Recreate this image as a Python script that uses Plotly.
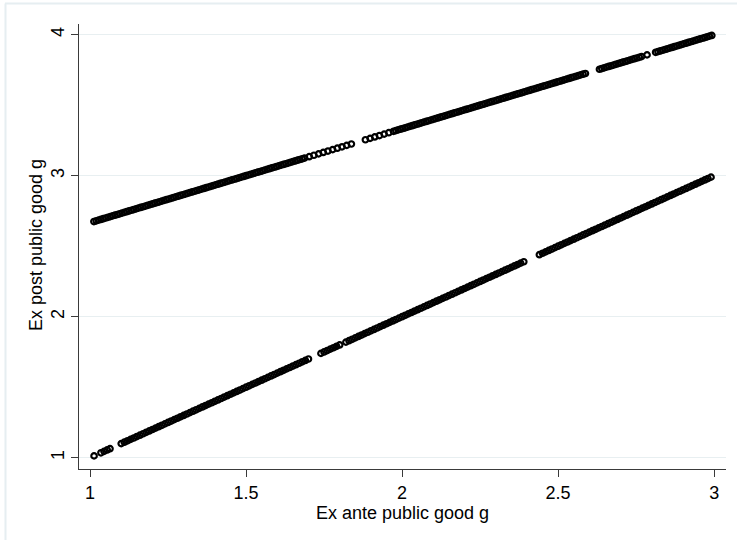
import plotly.graph_objects as go

# ---- data ----
lower_x = [1.013, 1.035, 1.045, 1.055, 1.064,
    1.10, 1.11, 1.12, 1.13, 1.14, 1.15, 1.16, 1.17, 1.18, 1.19,
    1.20, 1.21, 1.22, 1.23, 1.24, 1.25, 1.26, 1.27, 1.28, 1.29,
    1.30, 1.31, 1.32, 1.33, 1.34, 1.35, 1.36, 1.37, 1.38, 1.39,
    1.40, 1.41, 1.42, 1.43, 1.44, 1.45, 1.46, 1.47, 1.48, 1.49,
    1.50, 1.51, 1.52, 1.53, 1.54, 1.55, 1.56, 1.57, 1.58, 1.59,
    1.60, 1.61, 1.62, 1.63, 1.64, 1.65, 1.66, 1.67, 1.68, 1.69,
    1.70,
    1.74, 1.75, 1.76, 1.77, 1.78, 1.79, 1.80,
    1.82, 1.83, 1.84, 1.85, 1.86, 1.87, 1.88, 1.89,
    1.90, 1.91, 1.92, 1.93, 1.94, 1.95, 1.96, 1.97, 1.98, 1.99,
    2.00, 2.01, 2.02, 2.03, 2.04, 2.05, 2.06, 2.07, 2.08, 2.09,
    2.10, 2.11, 2.12, 2.13, 2.14, 2.15, 2.16, 2.17, 2.18, 2.19,
    2.20, 2.21, 2.22, 2.23, 2.24, 2.25, 2.26, 2.27, 2.28, 2.29,
    2.30, 2.31, 2.32, 2.33, 2.34, 2.35, 2.36, 2.37, 2.38, 2.39,
    2.44, 2.45, 2.46, 2.47, 2.48, 2.49,
    2.50, 2.51, 2.52, 2.53, 2.54, 2.55, 2.56, 2.57, 2.58, 2.59,
    2.60, 2.61, 2.62, 2.63, 2.64, 2.65, 2.66, 2.67, 2.68, 2.69,
    2.70, 2.71, 2.72, 2.73, 2.74, 2.75, 2.76, 2.77, 2.78, 2.79,
    2.80, 2.81, 2.82, 2.83, 2.84, 2.85, 2.86, 2.87, 2.88, 2.89,
    2.90, 2.91, 2.92, 2.93, 2.94, 2.95, 2.96, 2.97, 2.98, 2.99]

lower_y = [1.013, 1.035, 1.045, 1.055, 1.064,
    1.10, 1.11, 1.12, 1.13, 1.14, 1.15, 1.16, 1.17, 1.18, 1.19,
    1.20, 1.21, 1.22, 1.23, 1.24, 1.25, 1.26, 1.27, 1.28, 1.29,
    1.30, 1.31, 1.32, 1.33, 1.34, 1.35, 1.36, 1.37, 1.38, 1.39,
    1.40, 1.41, 1.42, 1.43, 1.44, 1.45, 1.46, 1.47, 1.48, 1.49,
    1.50, 1.51, 1.52, 1.53, 1.54, 1.55, 1.56, 1.57, 1.58, 1.59,
    1.60, 1.61, 1.62, 1.63, 1.64, 1.65, 1.66, 1.67, 1.68, 1.69,
    1.70,
    1.74, 1.75, 1.76, 1.77, 1.78, 1.79, 1.80,
    1.82, 1.83, 1.84, 1.85, 1.86, 1.87, 1.88, 1.89,
    1.90, 1.91, 1.92, 1.93, 1.94, 1.95, 1.96, 1.97, 1.98, 1.99,
    2.00, 2.01, 2.02, 2.03, 2.04, 2.05, 2.06, 2.07, 2.08, 2.09,
    2.10, 2.11, 2.12, 2.13, 2.14, 2.15, 2.16, 2.17, 2.18, 2.19,
    2.20, 2.21, 2.22, 2.23, 2.24, 2.25, 2.26, 2.27, 2.28, 2.29,
    2.30, 2.31, 2.32, 2.33, 2.34, 2.35, 2.36, 2.37, 2.38, 2.39,
    2.44, 2.45, 2.46, 2.47, 2.48, 2.49,
    2.50, 2.51, 2.52, 2.53, 2.54, 2.55, 2.56, 2.57, 2.58, 2.59,
    2.60, 2.61, 2.62, 2.63, 2.64, 2.65, 2.66, 2.67, 2.68, 2.69,
    2.70, 2.71, 2.72, 2.73, 2.74, 2.75, 2.76, 2.77, 2.78, 2.79,
    2.80, 2.81, 2.82, 2.83, 2.84, 2.85, 2.86, 2.87, 2.88, 2.89,
    2.90, 2.91, 2.92, 2.93, 2.94, 2.95, 2.96, 2.97, 2.98, 2.99]

upper_x = [
    1.0125, 1.02, 1.0275, 1.035, 1.0425, 1.05, 1.0575, 1.065, 1.0725, 1.08,
    1.0875, 1.095, 1.1025, 1.11, 1.1175, 1.125, 1.1325, 1.14, 1.1475, 1.155,
    1.1625, 1.17, 1.1775, 1.185, 1.1925, 1.2, 1.2075, 1.215, 1.2225, 1.23,
    1.2375, 1.245, 1.2525, 1.26, 1.2675, 1.275, 1.2825, 1.29, 1.2975, 1.305,
    1.3125, 1.32, 1.3275, 1.335, 1.3425, 1.35, 1.3575, 1.365, 1.3725, 1.38,
    1.3875, 1.395, 1.4025, 1.41, 1.4175, 1.425, 1.4325, 1.44, 1.4475, 1.455,
    1.4625, 1.47, 1.4775, 1.485, 1.4925, 1.5, 1.5075, 1.515, 1.5225, 1.53,
    1.5375, 1.545, 1.5525, 1.56, 1.5675, 1.575, 1.5825, 1.59, 1.5975, 1.605,
    1.6125, 1.62, 1.6275, 1.635, 1.6425, 1.65, 1.6575, 1.665, 1.6725, 1.68,
    1.6875,
    1.7025, 1.7175, 1.7325, 1.7475, 1.7625, 1.7775, 1.7925, 1.8075, 1.8225, 1.8375,
    1.8825, 1.8975, 1.9125, 1.9275, 1.9425, 1.9575, 1.9725,
    1.98, 1.9875, 1.995, 2.0025, 2.01, 2.0175, 2.025, 2.0325, 2.04, 2.0475,
    2.055, 2.0625, 2.07, 2.0775, 2.085, 2.0925, 2.1, 2.1075, 2.115, 2.1225,
    2.13, 2.1375, 2.145, 2.1525, 2.16, 2.1675, 2.175, 2.1825, 2.19, 2.1975,
    2.205, 2.2125, 2.22, 2.2275, 2.235, 2.2425, 2.25, 2.2575, 2.265, 2.2725,
    2.28, 2.2875, 2.295, 2.3025, 2.31, 2.3175, 2.325, 2.3325, 2.34, 2.3475,
    2.355, 2.3625, 2.37, 2.3775, 2.385, 2.3925, 2.4, 2.4075, 2.415, 2.4225,
    2.43, 2.4375, 2.445, 2.4525, 2.46, 2.4675, 2.475, 2.4825, 2.49, 2.4975,
    2.505, 2.5125, 2.52, 2.5275, 2.535, 2.5425, 2.55, 2.5575, 2.565, 2.5725,
    2.58, 2.5875,
    2.6325, 2.64, 2.6475, 2.655, 2.6625, 2.67, 2.6775, 2.685, 2.6925, 2.7,
    2.7075, 2.715, 2.7225, 2.73, 2.7375, 2.745, 2.7525, 2.76, 2.7675,
    2.785,
    2.8125, 2.82, 2.8275, 2.835, 2.8425, 2.85, 2.8575, 2.865, 2.8725, 2.88,
    2.8875, 2.895, 2.9025, 2.91, 2.9175, 2.925, 2.9325, 2.94, 2.9475, 2.955,
    2.9625, 2.97, 2.9775, 2.985, 2.9925]

upper_y = [
    2.675, 2.68, 2.685, 2.69, 2.695, 2.7, 2.705, 2.71, 2.715, 2.72,
    2.725, 2.73, 2.735, 2.74, 2.745, 2.75, 2.755, 2.76, 2.765, 2.77,
    2.775, 2.78, 2.785, 2.79, 2.795, 2.8, 2.805, 2.81, 2.815, 2.82,
    2.825, 2.83, 2.835, 2.84, 2.845, 2.85, 2.855, 2.86, 2.865, 2.87,
    2.875, 2.88, 2.885, 2.89, 2.895, 2.9, 2.905, 2.91, 2.915, 2.92,
    2.925, 2.93, 2.935, 2.94, 2.945, 2.95, 2.955, 2.96, 2.965, 2.97,
    2.975, 2.98, 2.985, 2.99, 2.995, 3.0, 3.005, 3.01, 3.015, 3.02,
    3.025, 3.03, 3.035, 3.04, 3.045, 3.05, 3.055, 3.06, 3.065, 3.07,
    3.075, 3.08, 3.085, 3.09, 3.095, 3.1, 3.105, 3.11, 3.115, 3.12,
    3.125,
    3.135, 3.145, 3.155, 3.165, 3.175, 3.185, 3.195, 3.205, 3.215, 3.225,
    3.255, 3.265, 3.275, 3.285, 3.295, 3.305, 3.315,
    3.32, 3.325, 3.33, 3.335, 3.34, 3.345, 3.35, 3.355, 3.36, 3.365,
    3.37, 3.375, 3.38, 3.385, 3.39, 3.395, 3.4, 3.405, 3.41, 3.415,
    3.42, 3.425, 3.43, 3.435, 3.44, 3.445, 3.45, 3.455, 3.46, 3.465,
    3.47, 3.475, 3.48, 3.485, 3.49, 3.495, 3.5, 3.505, 3.51, 3.515,
    3.52, 3.525, 3.53, 3.535, 3.54, 3.545, 3.55, 3.555, 3.56, 3.565,
    3.57, 3.575, 3.58, 3.585, 3.59, 3.595, 3.6, 3.605, 3.61, 3.615,
    3.62, 3.625, 3.63, 3.635, 3.64, 3.645, 3.65, 3.655, 3.66, 3.665,
    3.67, 3.675, 3.68, 3.685, 3.69, 3.695, 3.7, 3.705, 3.71, 3.715,
    3.72, 3.725,
    3.755, 3.76, 3.765, 3.77, 3.775, 3.78, 3.785, 3.79, 3.795, 3.8,
    3.805, 3.81, 3.815, 3.82, 3.825, 3.83, 3.835, 3.84, 3.845,
    3.857,
    3.875, 3.88, 3.885, 3.89, 3.895, 3.9, 3.905, 3.91, 3.915, 3.92,
    3.925, 3.93, 3.935, 3.94, 3.945, 3.95, 3.955, 3.96, 3.965, 3.97,
    3.975, 3.98, 3.985, 3.99, 3.995]

x_ticks = [1, 1.5, 2, 2.5, 3]
x_tick_labels = ["1", "1.5", "2", "2.5", "3"]
y_ticks = [1, 2, 3, 4]
y_tick_labels = ["1", "2", "3", "4"]

x_title = "Ex ante public good g"
y_title = "Ex post public good g"

# ---- figure ----
FONT = "Liberation Sans, Arial, sans-serif"
FS = 18
marker = dict(symbol="circle-open", size=5.5, color="black",
              line=dict(color="black", width=2.2))

fig = go.Figure()
fig.add_trace(go.Scatter(x=upper_x, y=upper_y, mode="markers",
                         marker=marker, showlegend=False, cliponaxis=False))
fig.add_trace(go.Scatter(x=lower_x, y=lower_y, mode="markers",
                         marker=marker, showlegend=False, cliponaxis=False))

W, H = 737, 540
L, R, T, B = 79, 11, 24, 71
pw, ph = W - L - R, H - T - B
def px2paper_x(px):
    return (px - L) / pw
def px2paper_y(py):
    return (H - B - py) / ph

fig.update_layout(
    width=W, height=H,
    margin=dict(l=L, r=R, t=T, b=B, pad=0, autoexpand=False),
    paper_bgcolor="white", plot_bgcolor="white",
    font=dict(family=FONT, size=FS, color="black"),
    showlegend=False,
)
fig.update_xaxes(
    range=[0.9647, 3.038], tickvals=x_ticks, ticktext=x_tick_labels,
    showgrid=False, zeroline=False, automargin=False,
    showline=True, linecolor="#3a3a3a", linewidth=1,
    ticks="outside", ticklen=7, tickcolor="#3a3a3a", tickwidth=1,
    tickfont=dict(size=FS, family=FONT, color="black"),
)
fig.update_yaxes(
    range=[0.92, 4.076], tickvals=y_ticks, ticktext=y_tick_labels,
    tickangle=-90, automargin=False,
    showgrid=True, gridcolor="#e8eff1", gridwidth=1.3, zeroline=False,
    showline=True, linecolor="#3a3a3a", linewidth=1,
    ticks="outside", ticklen=7, tickcolor="#3a3a3a", tickwidth=1,
    tickfont=dict(size=FS, family=FONT, color="black"),
)

# axis titles
fig.add_annotation(text=x_title, xref="paper", yref="paper",
                   x=px2paper_x(402), y=px2paper_y(512.5),
                   xanchor="center", yanchor="middle", showarrow=False,
                   font=dict(size=FS, family=FONT, color="black"))
fig.add_annotation(text=y_title, xref="paper", yref="paper",
                   x=px2paper_x(36), y=px2paper_y(245), textangle=-90,
                   xanchor="center", yanchor="middle", showarrow=False,
                   font=dict(size=FS, family=FONT, color="black"))

# light frame of the graph region (top and left edges visible)
frame = "#e6eef1"
fig.add_shape(type="line", xref="paper", yref="paper",
              x0=px2paper_x(5), x1=px2paper_x(740), y0=px2paper_y(3.5), y1=px2paper_y(3.5),
              line=dict(color=frame, width=2), layer="below")
fig.add_shape(type="line", xref="paper", yref="paper",
              x0=px2paper_x(5.5), x1=px2paper_x(5.5), y0=px2paper_y(3.5), y1=px2paper_y(545),
              line=dict(color=frame, width=2), layer="below")

fig.write_html("out.html", config={"displayModeBar": False},
               post_script="document.body.style.margin='0';")
